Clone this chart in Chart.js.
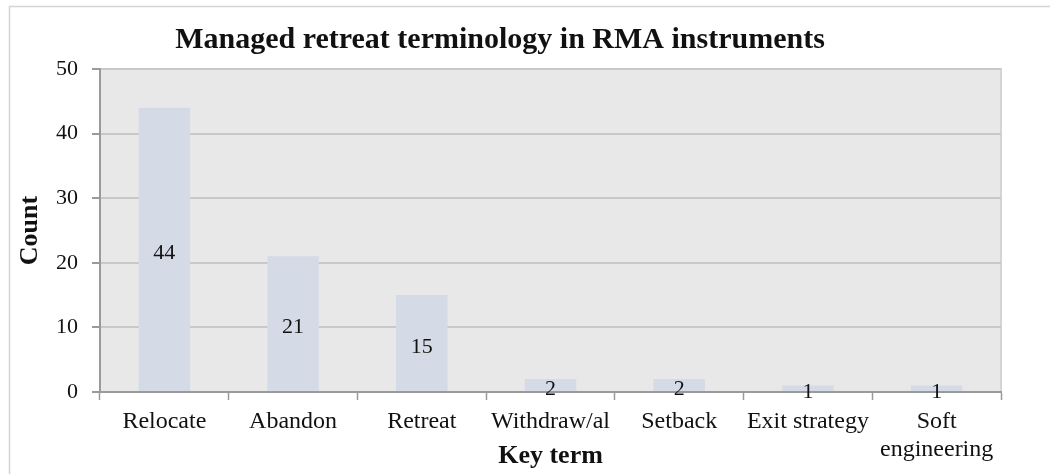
<!DOCTYPE html>
<html>
<head>
<meta charset="utf-8">
<script src="https://cdn.jsdelivr.net/npm/chart.js@4"></script>
<style>
  body { margin: 0; background: #fff; }
  #wrap { width: 1050px; height: 474px; }
</style>
</head>
<body>
<div id="wrap"><canvas id="myChart" width="1050" height="474"></canvas></div>
<script>
const categories = ["Relocate", "Abandon", "Retreat", "Withdraw/al", "Setback", "Exit strategy", ["Soft", "engineering"]];
const counts = [44, 21, 15, 2, 2, 1, 1];
const yTicks = [0, 10, 20, 30, 40, 50];

const serif = "'Liberation Serif', 'DejaVu Serif', serif";

const colors = {
  bar: "#d4dbe6",
  plot: "#e8e8e8",
  grid: "#c8c8c8",
  axis: "#9a9a9a",
  frame: "#d4d4d4",
  text: "#111",
};

// grey plot background, outer frame and the title
const backdrop = {
  id: "backdrop",
  beforeDraw(chart) {
    const { ctx, chartArea: a } = chart;
    ctx.save();
    ctx.strokeStyle = colors.frame;
    ctx.lineWidth = 1.5;
    ctx.strokeRect(9.5, 6.5, 1200, 600);
    ctx.fillStyle = colors.plot;
    ctx.fillRect(a.left, a.top, a.right - a.left, a.bottom - a.top);
    ctx.strokeStyle = colors.frame;
    ctx.lineWidth = 2;
    ctx.beginPath();
    ctx.moveTo(a.left, a.top);
    ctx.lineTo(a.right, a.top);
    ctx.lineTo(a.right, a.bottom);
    ctx.stroke();
    ctx.fillStyle = colors.text;
    ctx.font = "bold 30px " + serif;
    ctx.textAlign = "center";
    ctx.textBaseline = "middle";
    ctx.fillText("Managed retreat terminology in RMA instruments", 500, 40);
    ctx.restore();
  },
};

// value labels in the middle of each bar
const barLabels = {
  id: "barLabels",
  afterDatasetsDraw(chart) {
    const { ctx } = chart;
    const meta = chart.getDatasetMeta(0);
    ctx.save();
    ctx.fillStyle = colors.text;
    ctx.font = "22px " + serif;
    ctx.textAlign = "center";
    ctx.textBaseline = "middle";
    meta.data.forEach((bar, i) => {
      const y = (bar.y + bar.base) / 2 + 4;
      ctx.fillText(String(counts[i]), bar.x, y);
    });
    ctx.restore();
  },
};

const ctx = document.getElementById("myChart").getContext("2d");
new Chart(ctx, {
  type: "bar",
  data: {
    labels: categories,
    datasets: [
      {
        data: counts,
        backgroundColor: colors.bar,
        borderWidth: 0,
        barPercentage: 0.4,
        categoryPercentage: 1,
      },
    ],
  },
  options: {
    responsive: false,
    animation: false,
    layout: { padding: { left: 10, top: 69, right: 49, bottom: 0 } },
    plugins: { legend: { display: false }, tooltip: { enabled: false } },
    scales: {
      x: {
        grid: {
          offset: true,
          drawOnChartArea: false,
          tickLength: 8,
          tickColor: colors.axis,
          tickWidth: 1.5,
        },
        border: { color: colors.axis, width: 2 },
        ticks: {
          color: colors.text,
          font: { family: serif, size: 24, lineHeight: 1.15 },
          maxRotation: 0,
          autoSkip: false,
          padding: 8,
        },
        title: {
          display: true,
          text: "Key term",
          color: colors.text,
          font: { family: serif, size: 26, weight: "bold" },
          padding: { top: 4, bottom: 2 },
        },
        afterFit(scale) {
          scale.height = 82;
        },
      },
      y: {
        min: 0,
        max: 50,
        afterBuildTicks(scale) {
          scale.ticks = yTicks.map((v) => ({ value: v }));
        },
        grid: {
          color: colors.grid,
          lineWidth: 2,
          tickLength: 8,
          tickColor: colors.axis,
          drawTicks: true,
        },
        border: { color: colors.axis, width: 2 },
        ticks: {
          color: colors.text,
          font: { family: serif, size: 22 },
          padding: 14,
        },
        title: {
          display: true,
          text: "Count",
          color: colors.text,
          font: { family: serif, size: 26, weight: "bold" },
          padding: { top: 5, bottom: 4 },
        },
        afterFit(scale) {
          scale.width = 90;
        },
      },
    },
  },
  plugins: [backdrop, barLabels],
});
</script>
</body>
</html>
